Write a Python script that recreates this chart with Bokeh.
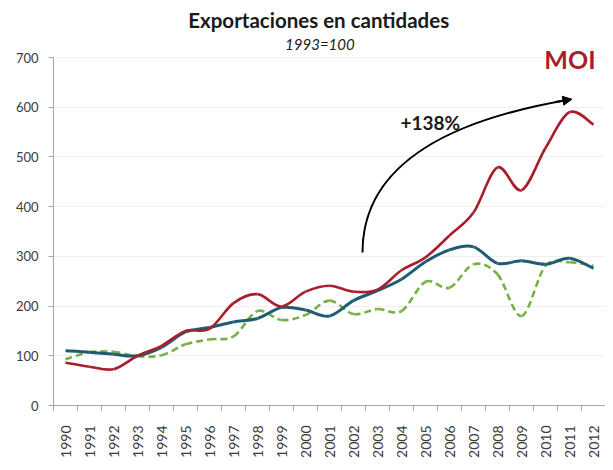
import numpy as np
from bokeh.plotting import figure
from bokeh.models import (Range1d, FixedTicker, Label, Arrow, NormalHead,
                          ColumnDataSource)
from bokeh.embed import file_html
from bokeh.resources import INLINE

# ---- data (index 1993 = 100) ----
years = list(range(1990, 2013))
moi = [86, 78, 73, 100, 120, 150, 154, 206, 224, 199, 229,
       241, 229, 233, 272, 298, 342, 388, 479, 433, 518, 590, 565]
serie_azul = [110, 107, 103, 100, 117, 148, 157, 168, 175, 197, 192,
              180, 211, 231, 254, 289, 313, 319, 286, 291, 284, 296, 276]
serie_verde = [93, 107, 108, 99, 101, 123, 133, 139, 190, 172, 182,
               211, 184, 194, 190, 249, 237, 284, 264, 180, 281, 288, 281]
y_ticks = [0, 100, 200, 300, 400, 500, 600, 700]
year_labels = [str(y) for y in years]

title_text = "Exportaciones en cantidades"
subtitle_text = "1993=100"
moi_text = "MOI"
growth_text = "+138%"

FONT = "Lato"
RED = "#A81E2C"
TEAL = "#1D5C72"
GREEN = "#78B046"

# frame: bottom at page y=413, top at page y=10, 700 units -> 348 px
PX_PER_UNIT = 348 / 700.0
Y_TOP = 403 / PX_PER_UNIT


def smooth_source(xs, ys):
    """Catmull-Rom (Excel-like smoothed line) as bezier segments."""
    x = np.asarray(xs, dtype=float)
    y = np.asarray(ys, dtype=float)
    xp = np.concatenate([[x[0]], x, [x[-1]]])
    yp = np.concatenate([[y[0]], y, [y[-1]]])
    n = len(x) - 1
    x0, y0 = x[:-1], y[:-1]
    x1, y1 = x[1:], y[1:]
    cx0 = x0 + (xp[2:n + 2] - xp[0:n]) / 6.0
    cy0 = y0 + (yp[2:n + 2] - yp[0:n]) / 6.0
    cx1 = x1 - (xp[3:n + 3] - xp[1:n + 1]) / 6.0
    cy1 = y1 - (yp[3:n + 3] - yp[1:n + 1]) / 6.0
    return ColumnDataSource(dict(x0=x0, y0=y0, x1=x1, y1=y1,
                                 cx0=cx0, cy0=cy0, cx1=cx1, cy1=cy1))


p = figure(width=605, height=462, output_backend="svg", toolbar_location=None,
           x_range=Range1d(1989.5, 2012.5), y_range=Range1d(0, Y_TOP),
           min_border_left=53, min_border_right=0, min_border_top=2,
           min_border_bottom=57)
p.outline_line_color = None
p.background_fill_color = "white"
p.border_fill_color = "white"

# grid
p.xgrid.grid_line_color = None
p.ygrid.ticker = FixedTicker(ticks=y_ticks)
p.ygrid.grid_line_color = "#efefef"
p.ygrid.grid_line_width = 1

# y axis
p.yaxis.ticker = FixedTicker(ticks=y_ticks)
p.yaxis.bounds = (0, 700)
p.yaxis.axis_line_color = "#a6a6a6"
p.yaxis.major_tick_line_color = "#a6a6a6"
p.yaxis.major_tick_out = 5
p.yaxis.major_tick_in = 0
p.yaxis.minor_tick_line_color = None
p.yaxis.major_label_standoff = 10
p.yaxis.major_label_text_font = FONT
p.yaxis.major_label_text_font_size = "13px"
p.yaxis.major_label_text_color = "#3a3a3a"

# x axis: labels at years, tick marks between years
p.xaxis.ticker = FixedTicker(ticks=years,
                             minor_ticks=[y - 0.5 for y in years] + [years[-1] + 0.5])
p.xaxis.major_label_overrides = {y: s for y, s in zip(years, year_labels)}
p.xaxis.axis_line_color = "#a6a6a6"
p.xaxis.major_tick_line_color = None
p.xaxis.major_tick_out = 5
p.xaxis.major_tick_in = 0
p.xaxis.minor_tick_line_color = "#a6a6a6"
p.xaxis.minor_tick_out = 5
p.xaxis.minor_tick_in = 0
p.xaxis.major_label_orientation = np.pi / 2
p.xaxis.major_label_standoff = 15
p.xaxis.major_label_text_font = FONT
p.xaxis.major_label_text_font_size = "14px"
p.xaxis.major_label_text_color = "#3a3a3a"

# series (smoothed lines)
p.bezier(x0="x0", y0="y0", x1="x1", y1="y1", cx0="cx0", cy0="cy0",
         cx1="cx1", cy1="cy1", source=smooth_source(years, serie_verde),
         line_color=GREEN, line_width=2.6, line_dash="7 4")
p.bezier(x0="x0", y0="y0", x1="x1", y1="y1", cx0="cx0", cy0="cy0",
         cx1="cx1", cy1="cy1", source=smooth_source(years, serie_azul),
         line_color=TEAL, line_width=3)
p.bezier(x0="x0", y0="y0", x1="x1", y1="y1", cx0="cx0", cy0="cy0",
         cx1="cx1", cy1="cy1", source=smooth_source(years, moi),
         line_color=RED, line_width=2.6)

# curved growth arrow
arrow_path = dict(x0=[2002.375], y0=[308], cx0=[2002.375], cy0=[499],
                  cx1=[2006.54], cy1=[579], x1=[2011.04], y1=[615.5])
p.bezier(x0="x0", y0="y0", x1="x1", y1="y1", cx0="cx0", cy0="cy0",
         cx1="cx1", cy1="cy1", source=ColumnDataSource(arrow_path),
         line_color="black", line_width=2)
p.add_layout(Arrow(end=NormalHead(size=9, fill_color="black", line_color="black"),
                   x_start=2010.4, y_start=610.3, x_end=2011.1, y_end=616,
                   line_color="black", line_width=2))

# texts
p.add_layout(Label(x=2000.55, y=776, text=title_text, text_align="center",
                   text_baseline="alphabetic", text_font=FONT,
                   text_font_style="bold", text_font_size="20.5px",
                   text_color="#1a1a1a"))
p.add_layout(Label(x=2000.6, y=728, text=subtitle_text, text_align="center",
                   text_baseline="alphabetic", text_font=FONT,
                   text_font_style="italic", text_font_size="15px",
                   text_color="#1a1a1a"))
p.add_layout(Label(x=2005.2, y=569, text=growth_text, text_align="center",
                   text_baseline="middle", text_font=FONT,
                   text_font_style="bold", text_font_size="19px",
                   text_color="#1a1a1a"))
p.add_layout(Label(x=2011.02, y=697, text=moi_text, text_align="center",
                   text_baseline="middle", text_font=FONT,
                   text_font_style="bold", text_font_size="25px",
                   text_color=RED))

open("out.html", "w").write(file_html(p, INLINE))
